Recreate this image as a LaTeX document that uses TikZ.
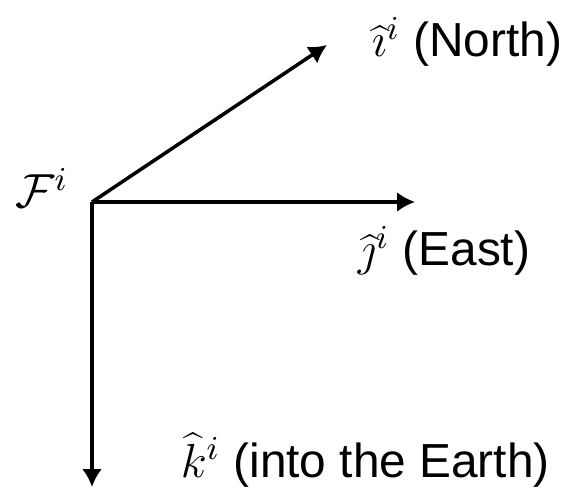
\RequirePackage{fix-cm}
\documentclass[tikz,border=0pt]{standalone}
\usepackage{fontspec}
\setmainfont{Liberation Sans}
\usetikzlibrary{arrows.meta}

\begin{document}
\begin{tikzpicture}[>={Latex[length=1.8mm,width=2mm]}, line width=1pt,
    lbl/.style={inner sep=0pt, font=\fontsize{13.6}{16}\selectfont}]
    \useasboundingbox (0,0) rectangle (5.69,4.88);

    % frame origin
    \coordinate (O) at (0.92, 2.86);
    \node[lbl, anchor=base east] (F) at (0.70, 2.80) {$\mathcal{F}^i$};

    % North
    \coordinate (N) at (3.27, 4.43);
    \draw[->] (O) -- (N);
    \node[lbl, anchor=base west] (Nlbl) at (3.70, 4.31) {$\widehat{\imath}^i$ (North)};

    % East
    \coordinate (E) at (4.15, 2.86);
    \draw[->] (O) -- (E);
    \node[lbl, anchor=base west] (Elbl) at (3.56, 2.22) {$\widehat{\jmath}^i$ (East)};

    % Down
    \coordinate (D) at (0.92, 0.01);
    \draw[->] (O) -- (D);
    \node[lbl, anchor=base west] (Dlbl) at (1.79, 0.11) {$\widehat{k}^i$ (into the Earth)};
\end{tikzpicture}
\end{document}
